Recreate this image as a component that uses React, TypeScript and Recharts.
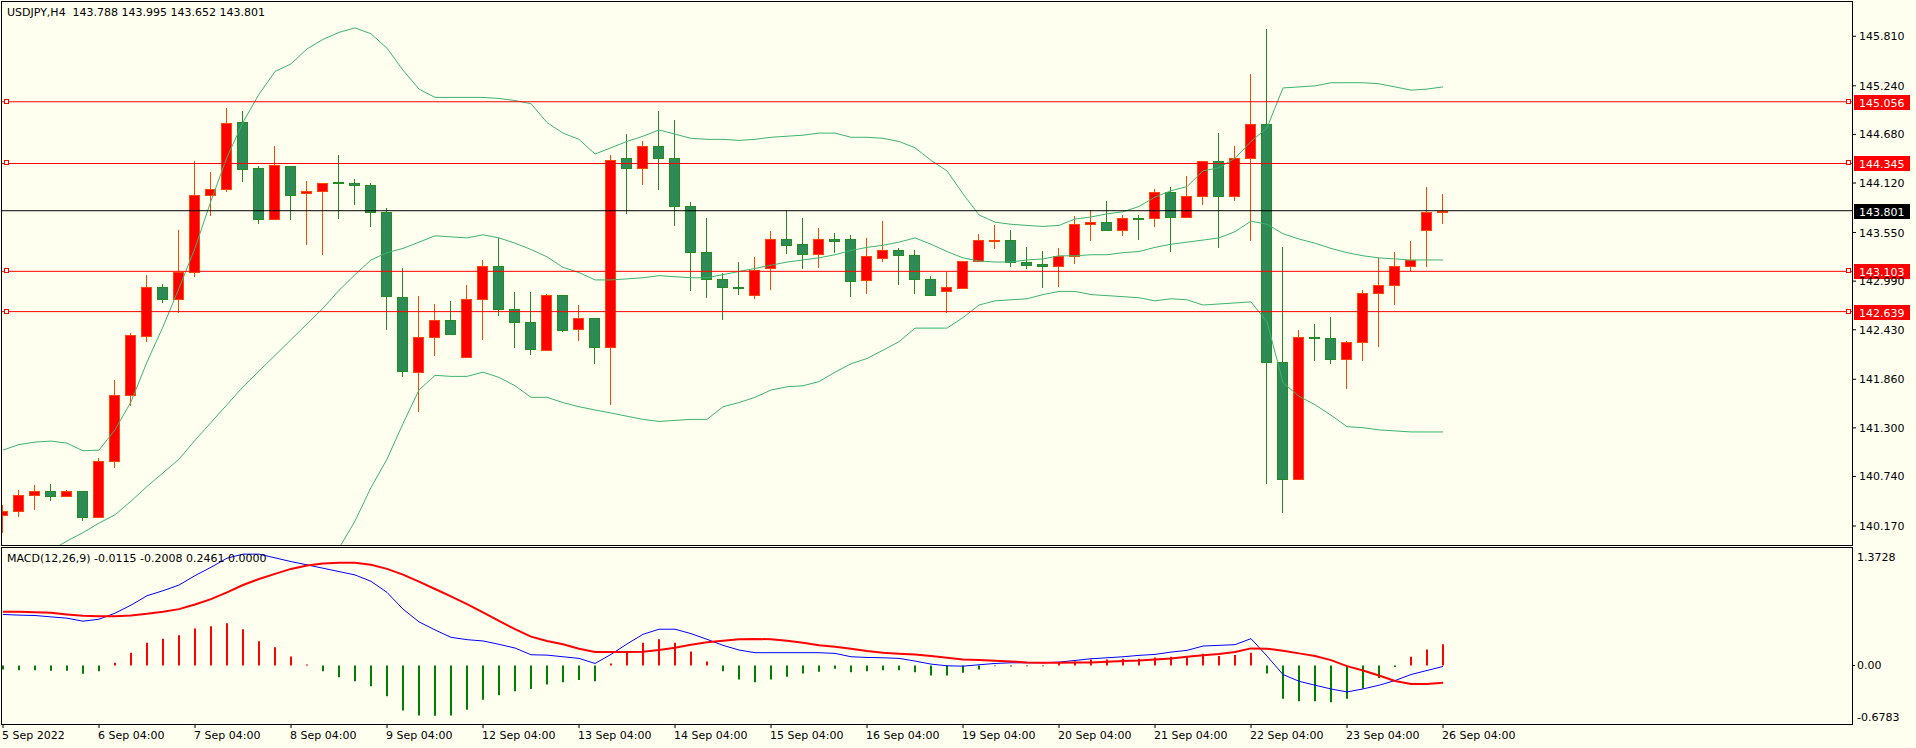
import React from 'react';
import { ComposedChart, Bar, Line, XAxis, YAxis, ReferenceLine, Cell } from 'recharts';

// USDJPY H4 candles (bar 0 = 5 Sep, last bar = 26 Sep 04:00)
const opens = [
  140.295, 140.339, 140.524, 140.569, 140.512, 140.569, 140.271, 140.915, 141.676, 142.356,
  142.920, 142.779, 143.097, 143.983, 144.047, 144.820, 144.289, 143.701, 144.313, 144.003,
  144.031, 144.132, 144.115, 144.095, 143.785, 142.807, 141.942, 142.344, 142.537, 142.115,
  142.787, 143.169, 142.674, 142.517, 142.195, 142.827, 142.437, 142.562, 142.235, 144.405,
  144.297, 144.542, 144.405, 143.854, 143.330, 143.016, 142.928, 142.827, 143.137, 143.479,
  143.423, 143.306, 143.479, 143.479, 143.000, 143.262, 143.343, 143.286, 143.020, 142.871,
  142.916, 143.218, 143.451, 143.459, 143.210, 143.185, 143.169, 143.282, 143.644, 143.669,
  143.584, 143.717, 143.713, 144.015, 143.733, 143.967, 144.377, 143.975, 144.413, 144.796,
  142.062, 140.706, 142.352, 142.332, 142.091, 142.284, 142.859, 142.940, 143.169, 143.584,
  143.788,
];
const highs = [
  140.412, 140.581, 140.641, 140.653, 140.581, 140.569, 140.955, 141.853, 142.392, 143.061,
  142.956, 143.580, 144.373, 144.248, 144.985, 144.949, 144.317, 144.550, 144.313, 144.144,
  144.115, 144.446, 144.168, 144.115, 143.830, 143.141, 142.819, 142.727, 142.767, 142.948,
  143.238, 143.491, 142.867, 142.867, 142.839, 142.827, 142.714, 142.562, 144.438, 144.687,
  144.599, 144.949, 144.848, 143.902, 143.713, 143.089, 143.210, 143.270, 143.572, 143.805,
  143.713, 143.604, 143.544, 143.524, 143.483, 143.685, 143.367, 143.343, 143.049, 143.101,
  143.218, 143.532, 143.632, 143.580, 143.383, 143.339, 143.371, 143.741, 143.805, 143.914,
  143.753, 143.753, 144.051, 144.075, 144.196, 144.377, 144.699, 144.546, 145.376, 145.891,
  143.383, 142.429, 142.497, 142.578, 142.304, 142.888, 143.262, 143.330, 143.451, 144.075,
  143.995,
];
const lows = [
  140.090, 140.279, 140.359, 140.460, 140.500, 140.231, 140.263, 140.834, 141.547, 142.284,
  142.743, 142.618, 143.037, 143.745, 144.011, 144.136, 143.652, 143.693, 143.689, 143.411,
  143.294, 143.709, 143.862, 143.608, 142.433, 141.881, 141.487, 142.131, 142.384, 142.103,
  142.316, 142.586, 142.223, 142.143, 142.195, 142.404, 142.304, 142.030, 141.567, 143.765,
  144.103, 144.043, 143.628, 142.880, 142.799, 142.537, 142.835, 142.779, 142.888, 143.302,
  143.129, 143.141, 143.310, 142.807, 142.847, 143.210, 142.940, 142.847, 142.835, 142.626,
  142.896, 143.210, 143.363, 143.157, 143.129, 142.916, 142.928, 143.190, 143.451, 143.584,
  143.512, 143.463, 143.612, 143.330, 143.733, 143.862, 143.371, 143.914, 143.451, 140.653,
  140.319, 140.706, 142.074, 142.034, 141.748, 142.070, 142.231, 142.714, 143.109, 143.149,
  143.652,
];
const closes = [
  140.343, 140.524, 140.569, 140.512, 140.569, 140.271, 140.915, 141.676, 142.364, 142.920,
  142.779, 143.101, 143.979, 144.047, 144.808, 144.285, 143.701, 144.325, 143.987, 144.023,
  144.115, 144.115, 144.095, 143.785, 142.815, 141.954, 142.344, 142.537, 142.384, 142.787,
  143.169, 142.674, 142.517, 142.203, 142.827, 142.433, 142.562, 142.235, 144.389, 144.297,
  144.542, 144.405, 143.854, 143.330, 143.016, 142.920, 142.920, 143.121, 143.479, 143.411,
  143.306, 143.479, 143.455, 142.988, 143.278, 143.343, 143.286, 143.020, 142.835, 142.920,
  143.218, 143.459, 143.459, 143.210, 143.181, 143.169, 143.282, 143.644, 143.669, 143.584,
  143.713, 143.709, 144.015, 143.733, 143.967, 144.377, 143.975, 144.413, 144.796, 142.062,
  140.706, 142.344, 142.336, 142.099, 142.284, 142.859, 142.944, 143.169, 143.230, 143.781,
  143.801,
];

// Bollinger bands (20, 2)
const bbUpper = [
  141.044, 141.108, 141.136, 141.148, 141.124, 141.036, 141.044, 141.277, 141.600, 142.059,
  142.465, 142.908, 143.370, 143.914, 144.417, 144.820, 145.142, 145.404, 145.492, 145.665,
  145.774, 145.855, 145.907, 145.839, 145.673, 145.420, 145.202, 145.106, 145.106, 145.106,
  145.106, 145.094, 145.070, 145.033, 144.816, 144.695, 144.623, 144.454, 144.526, 144.599,
  144.659, 144.731, 144.683, 144.635, 144.623, 144.623, 144.611, 144.623, 144.647, 144.659,
  144.671, 144.695, 144.695, 144.647, 144.647, 144.635, 144.599, 144.526, 144.381, 144.260,
  143.995, 143.753, 143.669, 143.645, 143.632, 143.620, 143.632, 143.705, 143.729, 143.765,
  143.789, 143.850, 143.958, 144.031, 144.079, 144.260, 144.297, 144.405, 144.599, 144.756,
  145.215, 145.227, 145.239, 145.275, 145.275, 145.275, 145.263, 145.227, 145.190, 145.202,
  145.227,
];
const bbMiddle = [
  139.611, 139.707, 139.804, 139.889, 139.997, 140.094, 140.203, 140.299, 140.456, 140.625,
  140.782, 140.939, 141.157, 141.362, 141.567, 141.773, 141.954, 142.135, 142.316, 142.497,
  142.678, 142.884, 143.065, 143.234, 143.318, 143.367, 143.439, 143.512, 143.500, 143.488,
  143.524, 143.488, 143.427, 143.355, 143.270, 143.149, 143.089, 143.004, 143.004, 143.016,
  143.029, 143.053, 143.041, 143.029, 143.029, 143.065, 143.101, 143.137, 143.173, 143.210,
  143.234, 143.258, 143.294, 143.343, 143.379, 143.403, 143.439, 143.488, 143.415, 143.331,
  143.258, 143.222, 143.210, 143.210, 143.234, 143.246, 143.282, 143.282, 143.294, 143.294,
  143.318, 143.331, 143.379, 143.415, 143.439, 143.463, 143.488, 143.560, 143.681, 143.645,
  143.536, 143.475, 143.427, 143.367, 143.318, 143.282, 143.258, 143.246, 143.234, 143.234,
  143.234,
];
const bbLower = [
  138.174, 138.306, 138.476, 138.633, 138.874, 139.152, 139.357, 139.321, 139.309, 139.188,
  139.104, 138.971, 138.947, 138.814, 138.717, 138.729, 138.765, 138.862, 139.140, 139.333,
  139.587, 139.913, 140.227, 140.613, 140.939, 141.350, 141.736, 141.905, 141.893, 141.893,
  141.942, 141.881, 141.785, 141.652, 141.652, 141.591, 141.543, 141.507, 141.471, 141.434,
  141.398, 141.374, 141.386, 141.398, 141.398, 141.543, 141.591, 141.652, 141.736, 141.773,
  141.785, 141.833, 141.942, 142.038, 142.099, 142.195, 142.292, 142.449, 142.449, 142.449,
  142.570, 142.715, 142.763, 142.775, 142.787, 142.835, 142.872, 142.872, 142.835, 142.823,
  142.811, 142.799, 142.763, 142.787, 142.775, 142.715, 142.727, 142.739, 142.751, 142.521,
  141.821, 141.664, 141.567, 141.446, 141.314, 141.302, 141.277, 141.265, 141.253, 141.253,
  141.253,
];

// MACD(12,26,9) panel
const macdMain = [
  0.591, 0.583, 0.579, 0.563, 0.548, 0.513, 0.536, 0.606, 0.699, 0.808,
  0.866, 0.932, 1.041, 1.138, 1.243, 1.290, 1.290, 1.247, 1.204, 1.166,
  1.127, 1.088, 1.049, 0.975, 0.847, 0.653, 0.505, 0.412, 0.326, 0.299,
  0.284, 0.245, 0.202, 0.124, 0.120, 0.101, 0.082, 0.023, 0.128, 0.249,
  0.361, 0.420, 0.420, 0.369, 0.303, 0.233, 0.179, 0.148, 0.148, 0.148,
  0.148, 0.148, 0.140, 0.101, 0.093, 0.089, 0.082, 0.051, 0.016, -0.004,
  -0.008, 0.008, 0.023, 0.031, 0.031, 0.031, 0.039, 0.058, 0.078, 0.089,
  0.101, 0.117, 0.128, 0.155, 0.175, 0.225, 0.233, 0.241, 0.311, 0.109,
  -0.105, -0.183, -0.229, -0.272, -0.307, -0.272, -0.229, -0.175, -0.105, -0.058,
  -0.0115,
];
const macdSignal = [
  0.622, 0.622, 0.618, 0.610, 0.591, 0.575, 0.571, 0.571, 0.579, 0.598,
  0.622, 0.653, 0.707, 0.769, 0.847, 0.932, 1.002, 1.061, 1.119, 1.158,
  1.181, 1.189, 1.189, 1.166, 1.119, 1.053, 0.971, 0.886, 0.800, 0.711,
  0.614, 0.517, 0.420, 0.334, 0.284, 0.245, 0.194, 0.155, 0.155, 0.155,
  0.159, 0.179, 0.206, 0.241, 0.268, 0.287, 0.303, 0.307, 0.303, 0.287,
  0.264, 0.233, 0.218, 0.194, 0.167, 0.148, 0.136, 0.128, 0.109, 0.089,
  0.070, 0.062, 0.054, 0.047, 0.035, 0.031, 0.031, 0.035, 0.035, 0.043,
  0.051, 0.058, 0.070, 0.082, 0.101, 0.117, 0.132, 0.155, 0.198, 0.194,
  0.171, 0.140, 0.109, 0.062, -0.008, -0.058, -0.117, -0.179, -0.214, -0.214,
  -0.2008,
];
const macdHist = [
  -0.047, -0.054, -0.054, -0.062, -0.062, -0.097, -0.066, 0.031, 0.148, 0.264,
  0.311, 0.350, 0.427, 0.455, 0.490, 0.420, 0.280, 0.210, 0.105, 0.012,
  -0.066, -0.136, -0.183, -0.241, -0.357, -0.521, -0.579, -0.583, -0.579, -0.513,
  -0.396, -0.346, -0.299, -0.272, -0.221, -0.194, -0.167, -0.183, 0.023, 0.148,
  0.264, 0.303, 0.264, 0.163, 0.047, -0.066, -0.163, -0.194, -0.163, -0.132,
  -0.093, -0.074, -0.039, -0.078, -0.066, -0.054, -0.054, -0.078, -0.117, -0.117,
  -0.085, -0.047, -0.008, -0.012, -0.008, -0.008, 0.031, 0.047, 0.070, 0.070,
  0.078, 0.078, 0.093, 0.101, 0.109, 0.136, 0.109, 0.120, 0.148, -0.093,
  -0.385, -0.416, -0.416, -0.427, -0.385, -0.268, -0.144, -0.019, 0.101, 0.186,
  0.2461,
];

const timeTickBars = [0, 6, 12, 18, 24, 30, 36, 42, 48, 54, 60, 66, 72, 78, 84, 90];
const timeTickLabels = [
  '5 Sep 2022', '6 Sep 04:00', '7 Sep 04:00', '8 Sep 04:00', '9 Sep 04:00', '12 Sep 04:00',
  '13 Sep 04:00', '14 Sep 04:00', '15 Sep 04:00', '16 Sep 04:00', '19 Sep 04:00', '20 Sep 04:00',
  '21 Sep 04:00', '22 Sep 04:00', '23 Sep 04:00', '26 Sep 04:00',
];
const priceTicks = [145.81, 145.24, 144.68, 144.12, 143.55, 142.99, 142.43, 141.86, 141.3, 140.74, 140.17];
const redLevels = [145.056, 144.345, 143.103, 142.639];
const lastPrice = 143.801;
const macdTicks = [1.3728, 0, -0.6783];

const FONT = '"DejaVu Sans", Verdana, sans-serif';
const BG = '#FFFFF0';
const X_DOMAIN: [number, number] = [-0.0625, 115.5625];
const PRICE_DOMAIN: [number, number] = [139.951, 146.205];
const MACD_DOMAIN: [number, number] = [-0.6783, 1.3728];

const candles = opens.map((open, i) => ({
  i,
  open,
  high: highs[i],
  low: lows[i],
  close: closes[i],
  range: [lows[i], highs[i]],
  upper: bbUpper[i],
  middle: bbMiddle[i],
  lower: bbLower[i],
}));

const macdRows = macdMain.map((main, i) => ({ i, main, signal: macdSignal[i], hist: macdHist[i] }));

function Candle(props: any) {
  const { x, y, width, height, payload } = props;
  if (x == null || !payload) return null;
  const top = Math.min(y, y + height);
  const bottom = Math.max(y, y + height);
  const { open, high, low, close } = payload;
  const span = high - low || 1;
  const toY = (v: number) => top + ((high - v) / span) * (bottom - top);
  const cx = Math.round(x + width / 2) - 1;
  const up = close >= open;
  const stroke = up ? '#FF4500' : '#228B22';
  const fill = up ? '#FF0000' : '#2E8B57';
  const bodyTop = Math.round(toY(Math.max(open, close)));
  const bodyBot = Math.max(Math.round(toY(Math.min(open, close))), bodyTop + 1);
  return (
    <g>
      <line x1={cx + 0.5} x2={cx + 0.5} y1={Math.round(top)} y2={Math.round(bottom)} stroke={stroke} strokeWidth={1} />
      <rect x={cx - 4.5} y={bodyTop + 0.5} width={10} height={bodyBot - bodyTop} fill={fill} stroke={stroke} strokeWidth={1} />
    </g>
  );
}

function PriceTick({ x, y, payload }: any) {
  return (
    <text x={x} y={y + 4} fill="#000" fontSize={11} fontFamily={FONT}>
      {Number(payload.value).toFixed(3)}
    </text>
  );
}

function MacdTick({ x, y, payload }: any) {
  const v = Number(payload.value);
  const shift = v > 0 ? 14 : v < 0 ? -3 : 4;
  return (
    <g>
      {v === 0 && <line x1={1852} x2={1855} y1={Math.round(y) + 0.5} y2={Math.round(y) + 0.5} stroke="#000" />}
      <text x={x} y={y + shift} fill="#000" fontSize={11} fontFamily={FONT}>
        {v === 0 ? '0.00' : v.toFixed(4)}
      </text>
    </g>
  );
}

function TimeTick({ x, y, payload }: any) {
  const idx = timeTickBars.indexOf(Number(payload.value));
  return (
    <text x={x - 1} y={y + 9} fill="#000" fontSize={11} fontFamily={FONT}>
      {timeTickLabels[idx]}
    </text>
  );
}

function PriceTag({ viewBox, value, bg, markers }: any) {
  if (!viewBox) return null;
  const right = viewBox.x + viewBox.width;
  const yy = Math.round(viewBox.y);
  return (
    <g>
      {markers && <rect x={viewBox.x + 2.5} y={yy - 2.5} width={4} height={4} fill={BG} stroke="#FF0000" strokeWidth={1} />}
      {markers && <rect x={right - 5.5} y={yy - 2.5} width={4} height={4} fill={BG} stroke="#FF0000" strokeWidth={1} />}
      <rect x={right + 2} y={yy - 7} width={56} height={15} fill={bg} />
      <text x={right + 7} y={yy + 5} fill="#FFFFFF" fontSize={11} fontFamily={FONT}>
        {value.toFixed(3)}
      </text>
    </g>
  );
}

const textStyle: React.CSSProperties = {
  position: 'absolute',
  fontFamily: FONT,
  fontSize: 11,
  lineHeight: '13px',
  color: '#000',
  whiteSpace: 'pre',
  pointerEvents: 'none',
};

export default function App() {
  return (
    <div style={{ position: 'absolute', left: 0, top: 0, width: 1916, height: 748, background: BG, overflow: 'hidden' }}>
      <div style={{ position: 'absolute', left: 0, top: 0 }}>
        <ComposedChart width={1916} height={546} data={candles} margin={{ top: 2, right: 0, bottom: 1, left: 2 }}>
          <XAxis type="number" dataKey="i" domain={X_DOMAIN} allowDataOverflow hide />
          <YAxis
            orientation="right"
            width={64}
            domain={PRICE_DOMAIN}
            allowDataOverflow
            ticks={priceTicks}
            interval={0}
            tick={<PriceTick />}
            tickSize={4}
            tickMargin={3}
            axisLine={false}
            tickLine={{ stroke: '#000' }}
          />
          <Line dataKey="upper" stroke="#3CB371" strokeWidth={1} dot={false} activeDot={false} isAnimationActive={false} />
          <Line dataKey="middle" stroke="#3CB371" strokeWidth={1} dot={false} activeDot={false} isAnimationActive={false} />
          <Line dataKey="lower" stroke="#3CB371" strokeWidth={1} dot={false} activeDot={false} isAnimationActive={false} />
          <Bar dataKey="range" barSize={12} isAnimationActive={false} shape={(p: any) => <Candle {...p} />} />
          {redLevels.map((lv) => (
            <ReferenceLine
              key={lv}
              y={lv}
              stroke="#FF0000"
              strokeWidth={1}
              label={(p: any) => <PriceTag viewBox={p.viewBox} value={lv} bg="#FF0000" markers />}
            />
          ))}
          <ReferenceLine
            y={lastPrice}
            stroke="#000000"
            strokeWidth={1}
            label={(p: any) => <PriceTag viewBox={p.viewBox} value={lastPrice} bg="#000000" />}
          />
        </ComposedChart>
      </div>

      <div style={{ position: 'absolute', left: 0, top: 547 }}>
        <ComposedChart width={1916} height={201} data={macdRows} margin={{ top: 0, right: 0, bottom: 0, left: 2 }}>
          <XAxis
            type="number"
            dataKey="i"
            domain={X_DOMAIN}
            allowDataOverflow
            ticks={timeTickBars}
            interval={0}
            tick={<TimeTick />}
            tickSize={4}
            tickMargin={2}
            height={24}
            axisLine={false}
            tickLine={{ stroke: '#000' }}
          />
          <YAxis
            orientation="right"
            width={64}
            domain={MACD_DOMAIN}
            allowDataOverflow
            ticks={macdTicks}
            interval={0}
            tick={<MacdTick />}
            tickSize={3}
            tickMargin={2}
            axisLine={false}
            tickLine={false}
          />
          <Bar dataKey="hist" barSize={2} isAnimationActive={false}>
            {macdRows.map((r) => (
              <Cell key={r.i} fill={r.hist >= 0 ? '#FF0000' : '#008000'} />
            ))}
          </Bar>
          <Line dataKey="main" stroke="#0000FF" strokeWidth={1} dot={false} activeDot={false} isAnimationActive={false} />
          <Line dataKey="signal" stroke="#FF0000" strokeWidth={2} dot={false} activeDot={false} isAnimationActive={false} />
        </ComposedChart>
      </div>

      {/* panel frames */}
      <div style={{ position: 'absolute', left: 1, top: 1, width: 1852, height: 545, boxSizing: 'border-box', border: '1px solid #000', pointerEvents: 'none' }} />
      <div style={{ position: 'absolute', left: 1, top: 547, width: 1852, height: 178, boxSizing: 'border-box', border: '1px solid #000', pointerEvents: 'none' }} />

      <div style={{ ...textStyle, left: 7, top: 6 }}>{'USDJPY,H4  143.788 143.995 143.652 143.801'}</div>
      <div style={{ ...textStyle, left: 7, top: 552 }}>{'MACD(12,26,9) -0.0115 -0.2008 0.2461 0.0000'}</div>
    </div>
  );
}
